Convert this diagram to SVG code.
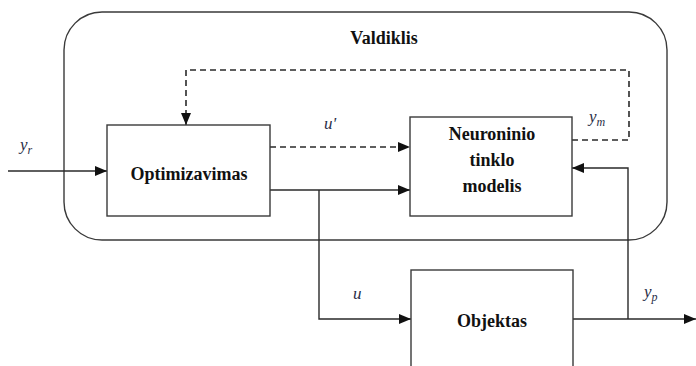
<svg xmlns="http://www.w3.org/2000/svg" width="696" height="366" viewBox="0 0 696 366">
<style>
.ln{fill:none;stroke:#2a2a2a;stroke-width:1.4}
.ds{fill:none;stroke:#2a2a2a;stroke-width:1.6;stroke-dasharray:6,4}
.bx{fill:#fff;stroke:#3a3a3a;stroke-width:1.4}
</style>
<defs>
<marker id="ah" viewBox="0 0 12 10" refX="12" refY="5" markerWidth="12" markerHeight="10" markerUnits="userSpaceOnUse" orient="auto">
<path d="M0,0 L12,5 L0,10 z" fill="#111"/>
</marker>
</defs>
<g id="valdiklis">
<rect x="64" y="12" width="603" height="228" rx="38" ry="38" class="bx" fill="none"/>
<text x="384" y="44" font-family="Liberation Serif, serif" font-weight="bold" font-size="18" fill="#111" text-anchor="middle">Valdiklis</text>
</g>
<g id="connectors">
<line x1="8" y1="171" x2="107" y2="171" class="ln" marker-end="url(#ah)"/>
<polyline points="572,140 629,140 629,70 186,70 186,125" class="ds" marker-end="url(#ah)"/>
<line x1="270" y1="147" x2="410" y2="147" class="ds" marker-end="url(#ah)"/>
<polyline points="270,190 319,190" class="ln"/>
<line x1="319" y1="190" x2="410" y2="190" class="ln" marker-end="url(#ah)"/>
<polyline points="319,190 319,319 411,319" class="ln" marker-end="url(#ah)"/>
<line x1="573" y1="319" x2="696" y2="319" class="ln" marker-end="url(#ah)"/>
<polyline points="628,319 628,168 572,168" class="ln" marker-end="url(#ah)"/>
</g>
<g id="optimizavimas">
<rect x="107" y="125" width="163" height="91" class="bx"/>
<text x="189" y="180" font-family="Liberation Serif, serif" font-weight="bold" font-size="18" fill="#111" text-anchor="middle">Optimizavimas</text>
</g>
<g id="neuroninio" font-family="Liberation Serif, serif" font-weight="bold" font-size="18" fill="#111" text-anchor="middle">
<rect x="410" y="117" width="162" height="99" class="bx"/>
<text x="492" y="140">Neuroninio</text>
<text x="492" y="166">tinklo</text>
<text x="492" y="192">modelis</text>
</g>
<g id="objektas">
<rect x="411" y="270" width="162" height="110" class="bx"/>
<text x="492" y="327" font-family="Liberation Serif, serif" font-weight="bold" font-size="18" fill="#111" text-anchor="middle">Objektas</text>
</g>
<g id="labels" font-family="Liberation Serif, serif" font-style="italic" font-size="17" fill="#2a2e48">
<text x="20" y="150">y<tspan font-size="12" dy="4">r</tspan></text>
<text x="324" y="129">u'</text>
<text x="589" y="122">y<tspan font-size="12" dy="4">m</tspan></text>
<text x="353" y="299">u</text>
<text x="644" y="297">y<tspan font-size="12" dy="4">p</tspan></text>
</g>
</svg>
